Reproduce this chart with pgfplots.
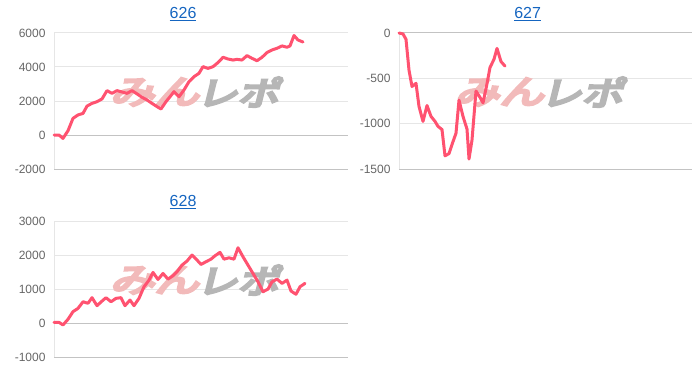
\documentclass[border=0pt]{standalone}
\usepackage{pgfplots}
\pgfplotsset{compat=1.18}
\usepackage{fontspec}
\setmainfont{Liberation Sans}
\newfontfamily\cjk[FakeBold=8]{Noto Sans CJK JP}
\definecolor{linec}{RGB}{255,82,112}
\definecolor{gridc}{RGB}{230,230,230}
\definecolor{zeroc}{RGB}{195,195,195}
\definecolor{tickc}{RGB}{102,102,102}
\definecolor{titlec}{RGB}{21,101,192}
\definecolor{wmpink}{RGB}{242,186,186}
\definecolor{wmgray}{RGB}{182,182,182}
\tikzset{
  wm/.style={font=\cjk\fontsize{33}{36}\selectfont, xslant=0.25, transform shape, inner sep=0pt},
  wmp/.style={wm, text=wmpink, xscale=1.35},
  wmg/.style={wm, text=wmgray, xscale=1.25},
  dataline/.style={linec, line width=3pt, line join=round, line cap=round},
}
\pgfplotsset{
  mini/.style={
    set layers=standard,
    scale only axis, width=294pt, height=136pt, anchor=south west,
    xtick=\empty,
    axis x line*=bottom, axis y line*=left,
    x axis line style={draw=zeroc,line width=1pt,-},
    y axis line style={draw=gridc,line width=1pt,-},
    major tick length=0pt,
    ymajorgrids, grid style={draw=gridc,line width=1pt},
    extra y ticks={0}, extra y tick labels={},
    extra y tick style={grid style={draw=zeroc,line width=1pt}},
    yticklabel style={font=\fontsize{12}{14}\selectfont, text=tickc, xshift=-5pt},
    /pgf/number format/assume math mode=true,
    /pgf/number format/1000 sep={},
    title style={font=\fontsize{16}{19}\selectfont, text=titlec, at={(0.439,1)}, anchor=center, yshift=13pt},
    clip=false,
  },
}
\begin{document}
\begin{tikzpicture}
% 626
\begin{axis}[mini, at={(54pt,201pt)}, xmin=54, xmax=348, ymin=-2000, ymax=6000,
  ytick={-2000,0,2000,4000,6000}, title={\underline{626}}]
\begin{pgfonlayer}{pre main}
\node[wmp] at (rel axis cs:0.352,0.566) {みん};
\node[wmg] at (rel axis cs:0.636,0.566) {レポ};
\end{pgfonlayer}
\addplot[dataline, no marks] coordinates {
(54,0) (59,0) (63,-200) (68,250) (73,980) (78,1180) (83,1270) (87,1700)
(92,1860) (97,1960) (102,2120) (107,2610) (112,2450) (117,2610) (122,2530)
(127,2450) (132,2610) (137,2420) (142,2220) (147,2060) (152,1860) (157,1670)
(161,1530) (166,1960) (170,2250) (174,2550) (179,2250) (184,2650) (189,3140)
(194,3430) (199,3630) (203,4020) (208,3920) (213,4020) (218,4260) (223,4570)
(228,4470) (233,4410) (237,4450) (242,4410) (247,4670) (252,4510) (257,4370)
(262,4570) (267,4850) (272,5000) (277,5100) (282,5240) (287,5160) (290,5240)
(294,5850) (298,5590) (303,5470)
};
\end{axis}
% 627
\begin{axis}[mini, at={(399pt,201pt)}, width=293pt, xmin=399, xmax=692, ymin=-1500, ymax=0,
  ytick={-1500,-1000,-500,0}, title={\underline{627}}]
\begin{pgfonlayer}{pre main}
\node[wmp] at (rel axis cs:0.353,0.566) {みん};
\node[wmg] at (rel axis cs:0.635,0.566) {レポ};
\end{pgfonlayer}
\addplot[dataline, no marks] coordinates {
(399,0) (403,-10) (406,-70) (409,-410) (412,-590) (416,-555) (419,-810)
(423,-975) (427,-800) (431,-920) (435,-975) (438,-1030) (442,-1065)
(445,-1355) (449,-1330) (452,-1230) (456,-1105) (459,-740) (463,-920)
(467,-1060) (469,-1390) (472,-1180) (476,-640) (480,-710) (483,-770)
(487,-560) (490,-380) (494,-290) (497,-170) (501,-315) (505,-365)
};
\end{axis}
% 628
\begin{axis}[mini, at={(54pt,12.7pt)}, height=136.3pt, xmin=54, xmax=348, ymin=-1000, ymax=3000,
  ytick={-1000,0,1000,2000,3000}, title={\underline{628}}]
\begin{pgfonlayer}{pre main}
\node[wmp] at (rel axis cs:0.352,0.567) {みん};
\node[wmg] at (rel axis cs:0.636,0.567) {レポ};
\end{pgfonlayer}
\addplot[dataline, no marks] coordinates {
(54,25) (59,25) (63,-50) (68,115) (73,340) (78,435) (83,630) (88,585)
(92,750) (97,515) (102,650) (106,750) (111,630) (116,730) (121,750)
(125,515) (130,680) (134,515) (139,730) (144,1070) (149,1265) (153,1490)
(158,1285) (163,1460) (168,1295) (173,1395) (177,1510) (182,1705) (187,1825)
(192,2000) (197,1855) (201,1725) (206,1805) (211,1880) (215,1980) (220,2080)
(224,1880) (229,1920) (234,1880) (238,2215) (243,1950) (248,1705) (253,1460)
(258,1215) (263,925) (268,1000) (272,1215) (277,1295) (282,1170) (287,1265)
(291,945) (296,850) (300,1070) (305,1170)
};
\end{axis}
\pgfresetboundingbox
\useasboundingbox (0pt,0pt) rectangle (700pt,370pt);
\end{tikzpicture}
\end{document}
